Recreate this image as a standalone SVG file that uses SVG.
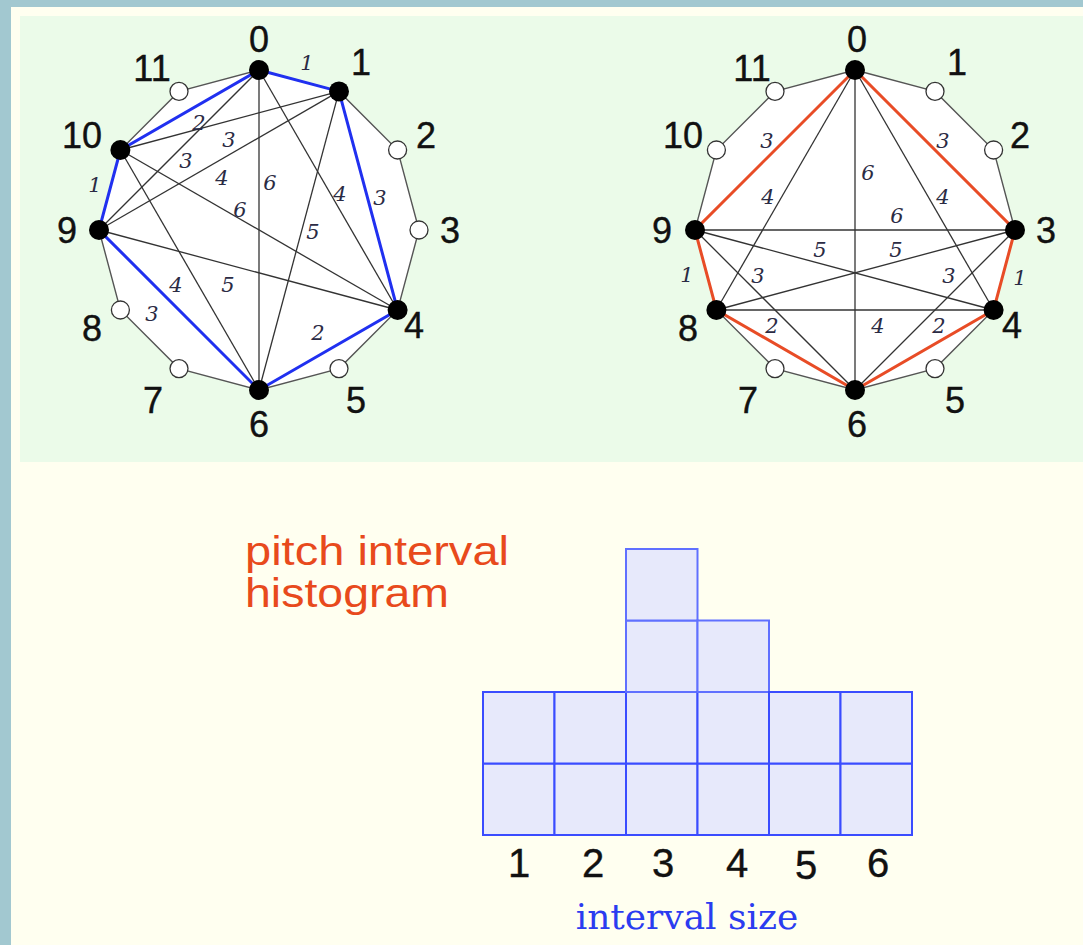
<svg xmlns="http://www.w3.org/2000/svg" width="1083" height="945" viewBox="0 0 1083 945">
<style>
.bg{fill:#a2c8d0}
.cream{fill:#fffff0}
.green{fill:#ebfbe9}
.poly{fill:#ffffff;stroke:#555555;stroke-width:1.4}
.thin{stroke:#333333;stroke-width:1.3;fill:none}
.blue{stroke:#2030f0;stroke-width:3;fill:none}
.red{stroke:#e84c26;stroke-width:3;fill:none}
.on{fill:#000000}
.off{fill:#ffffff;stroke:#333333;stroke-width:1.3}
.nl{font-family:"Liberation Sans",Arial,sans-serif;font-size:36px;fill:#111111;stroke:#111111;stroke-width:0.4;text-anchor:middle}
.il{font-family:"DejaVu Serif","Liberation Serif",serif;font-style:italic;font-size:21px;fill:#2b2b44;text-anchor:middle}
.cell{fill:#e7e9fb;stroke:#3a4cff;stroke-width:2}
.cell2{fill:#e7e9fb;stroke:#6070ff;stroke-width:2}
.ax{font-family:"Liberation Sans",Arial,sans-serif;font-size:40px;fill:#111111;stroke:#111111;stroke-width:0.4;text-anchor:middle}
.title{font-family:"Liberation Sans",Arial,sans-serif;font-size:40px;fill:#e84a1c}
.xl{font-family:"DejaVu Serif","Liberation Serif",serif;font-size:36px;fill:#2b3cf0;text-anchor:middle}
</style>
<rect class="bg" x="0" y="0" width="1083" height="945"/>
<rect class="cream" x="11" y="7" width="1072" height="938"/>
<rect class="green" x="20" y="16" width="1063" height="446"/>

<polygon id="left-outline" class="poly" points="259,70 339,91.4 397.6,150 419,230 397.6,310 339,368.6 259,390 179,368.6 120.4,310 99,230 120.4,150 179,91.4"/>
<polygon id="right-outline" class="poly" points="855,70 935,91.4 993.6,150 1015,230 993.6,310 935,368.6 855,390 775,368.6 716.4,310 695,230 716.4,150 775,91.4"/>

<g id="connectors">
  <line class="thin" x1="259" y1="70" x2="397.6" y2="310"/>
  <line class="thin" x1="259" y1="70" x2="259" y2="390"/>
  <line class="thin" x1="259" y1="70" x2="99" y2="230"/>
  <line class="thin" x1="339" y1="91.4" x2="259" y2="390"/>
  <line class="thin" x1="339" y1="91.4" x2="99" y2="230"/>
  <line class="thin" x1="339" y1="91.4" x2="120.4" y2="150"/>
  <line class="thin" x1="397.6" y1="310" x2="99" y2="230"/>
  <line class="thin" x1="397.6" y1="310" x2="120.4" y2="150"/>
  <line class="thin" x1="259" y1="390" x2="120.4" y2="150"/>
  <polygon class="blue" points="259,70 339,91.4 397.6,310 259,390 99,230 120.4,150"/>
  <line class="thin" x1="855" y1="70" x2="993.6" y2="310"/>
  <line class="thin" x1="855" y1="70" x2="855" y2="390"/>
  <line class="thin" x1="855" y1="70" x2="716.4" y2="310"/>
  <line class="thin" x1="1015" y1="230" x2="855" y2="390"/>
  <line class="thin" x1="1015" y1="230" x2="716.4" y2="310"/>
  <line class="thin" x1="1015" y1="230" x2="695" y2="230"/>
  <line class="thin" x1="993.6" y1="310" x2="716.4" y2="310"/>
  <line class="thin" x1="993.6" y1="310" x2="695" y2="230"/>
  <line class="thin" x1="855" y1="390" x2="695" y2="230"/>
  <polygon class="red" points="855,70 1015,230 993.6,310 855,390 716.4,310 695,230"/>
</g>

<g id="left-interval-labels">
  <text class="il" x="307" y="70">1</text>
  <text class="il" x="199" y="130">2</text>
  <text class="il" x="229" y="147">3</text>
  <text class="il" x="186" y="168">3</text>
  <text class="il" x="222" y="185">4</text>
  <text class="il" x="270" y="190">6</text>
  <text class="il" x="240" y="217">6</text>
  <text class="il" x="340" y="201">4</text>
  <text class="il" x="380" y="205">3</text>
  <text class="il" x="313" y="239">5</text>
  <text class="il" x="95" y="192">1</text>
  <text class="il" x="176" y="292">4</text>
  <text class="il" x="228" y="292">5</text>
  <text class="il" x="152" y="321">3</text>
  <text class="il" x="318" y="340">2</text>
</g>
<g id="right-interval-labels">
  <text class="il" x="767" y="148">3</text>
  <text class="il" x="943" y="148">3</text>
  <text class="il" x="868" y="180">6</text>
  <text class="il" x="768" y="204">4</text>
  <text class="il" x="943" y="204">4</text>
  <text class="il" x="897" y="223">6</text>
  <text class="il" x="820" y="257">5</text>
  <text class="il" x="896" y="257">5</text>
  <text class="il" x="687" y="282">1</text>
  <text class="il" x="758" y="283">3</text>
  <text class="il" x="949" y="283">3</text>
  <text class="il" x="1020" y="285">1</text>
  <text class="il" x="772" y="333">2</text>
  <text class="il" x="878" y="333">4</text>
  <text class="il" x="939" y="333">2</text>
</g>

<g id="L0"><circle class="on" cx="259" cy="70" r="10"/><text class="nl" x="259" y="52">0</text></g>
<g id="L1"><circle class="on" cx="339" cy="91.4" r="10"/><text class="nl" x="361" y="75">1</text></g>
<g id="L2"><circle class="off" cx="397.6" cy="150" r="9"/><text class="nl" x="426" y="148">2</text></g>
<g id="L3"><circle class="off" cx="419" cy="230" r="9"/><text class="nl" x="450" y="243">3</text></g>
<g id="L4"><circle class="on" cx="397.6" cy="310" r="10"/><text class="nl" x="414" y="338">4</text></g>
<g id="L5"><circle class="off" cx="339" cy="368.6" r="9"/><text class="nl" x="356" y="413">5</text></g>
<g id="L6"><circle class="on" cx="259" cy="390" r="10"/><text class="nl" x="259" y="437">6</text></g>
<g id="L7"><circle class="off" cx="179" cy="368.6" r="9"/><text class="nl" x="153" y="413">7</text></g>
<g id="L8"><circle class="off" cx="120.4" cy="310" r="9"/><text class="nl" x="92" y="341">8</text></g>
<g id="L9"><circle class="on" cx="99" cy="230" r="10"/><text class="nl" x="67" y="243">9</text></g>
<g id="L10"><circle class="on" cx="120.4" cy="150" r="10"/><text class="nl" x="82" y="148">10</text></g>
<g id="L11"><circle class="off" cx="179" cy="91.4" r="9"/><text class="nl" x="152" y="81">11</text></g>

<g id="R0"><circle class="on" cx="855" cy="70" r="10"/><text class="nl" x="857" y="52">0</text></g>
<g id="R1"><circle class="off" cx="935" cy="91.4" r="9"/><text class="nl" x="957" y="75">1</text></g>
<g id="R2"><circle class="off" cx="993.6" cy="150" r="9"/><text class="nl" x="1020" y="148">2</text></g>
<g id="R3"><circle class="on" cx="1015" cy="230" r="10"/><text class="nl" x="1046" y="243">3</text></g>
<g id="R4"><circle class="on" cx="993.6" cy="310" r="10"/><text class="nl" x="1012" y="338">4</text></g>
<g id="R5"><circle class="off" cx="935" cy="368.6" r="9"/><text class="nl" x="955" y="413">5</text></g>
<g id="R6"><circle class="on" cx="855" cy="390" r="10"/><text class="nl" x="857" y="437">6</text></g>
<g id="R7"><circle class="off" cx="775" cy="368.6" r="9"/><text class="nl" x="748" y="413">7</text></g>
<g id="R8"><circle class="on" cx="716.4" cy="310" r="10"/><text class="nl" x="688" y="341">8</text></g>
<g id="R9"><circle class="on" cx="695" cy="230" r="10"/><text class="nl" x="662" y="243">9</text></g>
<g id="R10"><circle class="off" cx="716.4" cy="150" r="9"/><text class="nl" x="683" y="148">10</text></g>
<g id="R11"><circle class="off" cx="775" cy="91.4" r="9"/><text class="nl" x="752" y="81">11</text></g>

<g id="title">
  <text class="title" x="245" y="565" textLength="264" lengthAdjust="spacingAndGlyphs">pitch interval</text>
  <text class="title" x="245" y="607" textLength="204" lengthAdjust="spacingAndGlyphs">histogram</text>
</g>
<g id="histogram">
  <rect class="cell" x="483" y="763.5" width="71.5" height="71.5"/>
  <rect class="cell" x="483" y="692" width="71.5" height="71.5"/>
  <rect class="cell" x="554.5" y="763.5" width="71.5" height="71.5"/>
  <rect class="cell" x="554.5" y="692" width="71.5" height="71.5"/>
  <rect class="cell" x="626" y="763.5" width="71.5" height="71.5"/>
  <rect class="cell" x="626" y="692" width="71.5" height="71.5"/>
  <rect class="cell2" x="626" y="620.5" width="71.5" height="71.5"/>
  <rect class="cell2" x="626" y="549" width="71.5" height="71.5"/>
  <rect class="cell" x="697.5" y="763.5" width="71.5" height="71.5"/>
  <rect class="cell" x="697.5" y="692" width="71.5" height="71.5"/>
  <rect class="cell2" x="697.5" y="620.5" width="71.5" height="71.5"/>
  <rect class="cell" x="769" y="763.5" width="71.5" height="71.5"/>
  <rect class="cell" x="769" y="692" width="71.5" height="71.5"/>
  <rect class="cell" x="840.5" y="763.5" width="71.5" height="71.5"/>
  <rect class="cell" x="840.5" y="692" width="71.5" height="71.5"/>
</g>
<g id="axis">
  <text class="ax" x="519" y="877">1</text>
  <text class="ax" x="593" y="877">2</text>
  <text class="ax" x="663" y="877">3</text>
  <text class="ax" x="737" y="877">4</text>
  <text class="ax" x="806" y="879">5</text>
  <text class="ax" x="878" y="877">6</text>
  <text class="xl" x="687" y="929">interval size</text>
</g>
</svg>
